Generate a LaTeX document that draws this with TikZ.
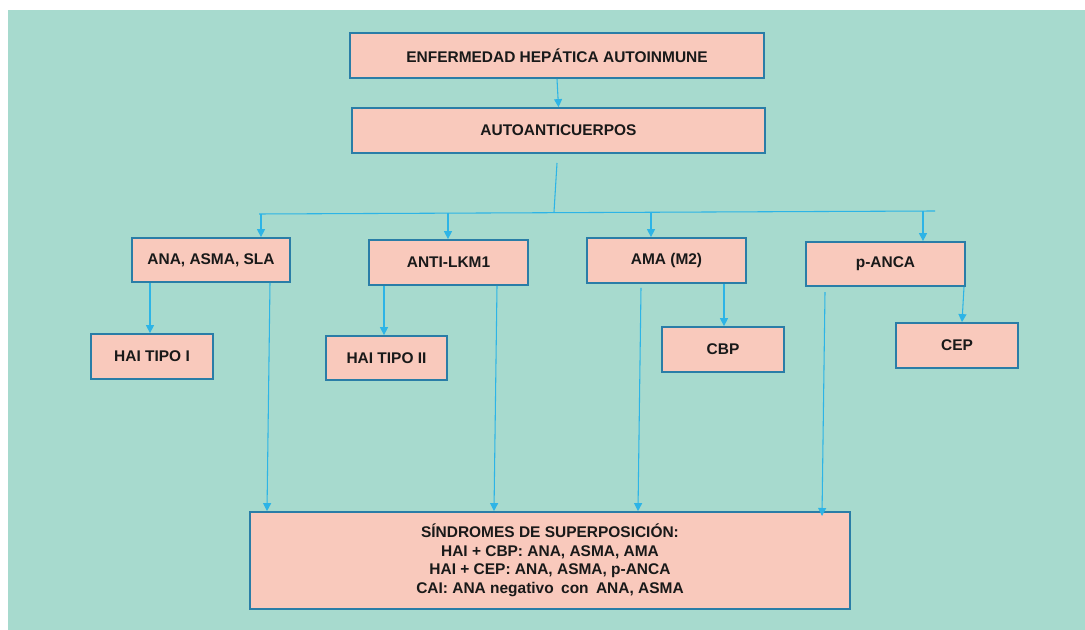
\documentclass[tikz,border=0pt]{standalone}
\usepackage{fontspec}
\setmainfont{Liberation Sans}
\usetikzlibrary{arrows.meta}
\definecolor{bgteal}{HTML}{A7DACE}
\definecolor{boxfill}{HTML}{F9C9BC}
\definecolor{boxline}{HTML}{2A7DA7}
\definecolor{arrblue}{HTML}{2DB4E6}
\newcommand{\bx}[6]{\node[box, minimum width={(#4-#2)*0.75pt}, minimum height={(#5-#3)*0.75pt}] (#1) at ({(#2+#4)/2},{(#3+#5)/2}) {#6};}
\begin{document}
\begin{tikzpicture}[x=0.75pt,y=-0.75pt,
 box/.style={draw=boxline, fill=boxfill, line width=1.3pt, inner sep=0pt,
   font=\bfseries\fontsize{11.6}{13.9}\selectfont, text=black!90, align=center},
 arr/.style={draw=arrblue, line width=0.8pt, -{Triangle[length=6pt,width=6pt]}},
 ln/.style={draw=arrblue, line width=0.8pt}]
\useasboundingbox (0,0) rectangle (1085,630);
\fill[white] (0,0) rectangle (1085,630);
\fill[bgteal] (8,10) rectangle (1085,630);

\bx{top}{350}{33}{764}{78}{ENFERMEDAD HEPÁTICA AUTOINMUNE}
\bx{auto}{352}{108}{765}{153}{AUTOANTICUERPOS}
\bx{ana}{132}{238}{290}{282}{ANA, ASMA, SLA}
\bx{lkm}{369}{240}{528}{285}{ANTI-LKM1}
\bx{ama}{587}{238}{746}{283}{AMA (M2)}
\bx{panca}{806}{242}{965}{286}{p-ANCA}
\bx{hai1}{91}{334}{213}{379}{HAI TIPO I}
\bx{hai2}{326}{336}{447}{380}{HAI TIPO II}
\bx{cbp}{662}{327}{784}{372}{CBP}
\bx{cep}{896}{323}{1018}{368}{CEP}
\bx{sind}{250}{512}{850}{609}{SÍNDROMES DE SUPERPOSICIÓN:\\HAI + CBP: ANA, ASMA, AMA\\HAI + CEP: ANA, ASMA, p-ANCA\\CAI: ANA negativo\hspace{0.2em} con\hspace{0.2em} ANA, ASMA}

% top connections
\draw[arr] (top.south) -- (auto.north);
\coordinate (t0) at (557,163);
\coordinate (t1) at (554,212);
\draw[ln] (t0) -- (t1);
\coordinate (busL) at (259,214);
\coordinate (busR) at (935,211);
\draw[ln] (busL) -- (busR);

% bus drops
\coordinate (b1) at (261,214);
\coordinate (b2) at (448,213);
\coordinate (b3) at (651,212);
\coordinate (b4) at (923,211);
\draw[arr] (b1) -- (b1 |- ana.north);
\draw[arr] (b2) -- (b2 |- lkm.north);
\draw[arr] (b3) -- (b3 |- ama.north);
\draw[arr] (b4) -- (b4 |- panca.north);

% children
\coordinate (c1) at (150,0);
\coordinate (c2) at (384,0);
\coordinate (c3) at (724,0);
\coordinate (c4) at (964,0);
\draw[arr] (ana.south -| c1) -- (hai1.north -| c1);
\draw[arr] (lkm.south -| c2) -- (hai2.north -| c2);
\draw[arr] (ama.south -| c3) -- (cbp.north -| c3);
\coordinate (c4e) at (962,0);
\draw[arr] (panca.south -| c4) -- (cep.north -| c4e);

% to overlap box
\coordinate (s1a) at (270,0); \coordinate (s1b) at (267,0);
\coordinate (s2a) at (497,0); \coordinate (s2b) at (494,0);
\coordinate (s3a) at (641,0); \coordinate (s3b) at (638,0);
\coordinate (s4a) at (825,0); \coordinate (s4b) at (822,0);
\coordinate (s4e) at (822,516);
\draw[arr] (ana.south -| s1a) -- (sind.north -| s1b);
\draw[arr] (lkm.south -| s2a) -- (sind.north -| s2b);
\draw[arr] ([yshift=-3pt]ama.south -| s3a) -- (sind.north -| s3b);
\draw[arr] ([yshift=-4pt]panca.south -| s4a) -- (s4e);
\end{tikzpicture}
\end{document}
